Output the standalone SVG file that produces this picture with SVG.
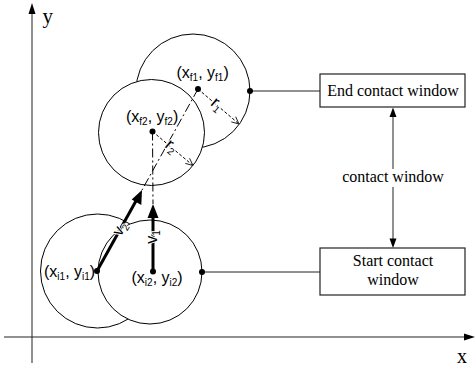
<svg xmlns="http://www.w3.org/2000/svg" width="475" height="366" viewBox="0 0 475 366">
<style>
.circ{fill:#fff;stroke:#000;stroke-width:1}
.dot{fill:#000}
.lbl{font-family:"Liberation Sans",Arial,sans-serif;font-size:16px;fill:#000}
.sub{font-size:10px}
.serif{font-family:"Liberation Serif","Times New Roman",serif;font-size:16px;fill:#000}
.box{fill:#fff;stroke:#222;stroke-width:1.2}
.conn{stroke:#222;stroke-width:1;fill:none}
.dashdot{stroke:#000;stroke-width:1;stroke-dasharray:9,3,2,3;fill:none}
.dash{stroke:#000;stroke-width:1;stroke-dasharray:3,2;fill:none}
.thick{stroke:#000;stroke-width:3;fill:none}
.halo{stroke:#fff;stroke-width:2;paint-order:stroke}
.big{font-size:17px}
</style>
<g id="axes">
<line class="conn" x1="32" y1="363" x2="32" y2="12"/>
<polygon points="32,3 28.5,14 35.5,14" fill="#000"/>
<line class="conn" x1="4" y1="337" x2="466" y2="337"/>
<polygon points="475,337 464,333.5 464,340.5" fill="#000"/>
<text x="42.5" y="23" class="serif" style="font-size:21px">y</text>
<text x="457" y="362.5" class="serif" style="font-size:20px">x</text>
</g>
<g id="circle-f1"><circle class="circ" cx="193" cy="91" r="57"/></g>
<g id="circle-f2"><circle class="circ" cx="151.5" cy="132.5" r="53"/></g>
<g id="circle-i1"><circle class="circ" cx="97.5" cy="271" r="57"/></g>
<g id="circle-i2"><circle class="circ" cx="150" cy="272" r="52"/></g>
<g id="connectors">
<line class="dashdot" x1="198" y1="89" x2="142" y2="190"/>
<line class="dashdot" x1="152.5" y1="131.5" x2="153" y2="204"/>
<line class="dash" x1="198" y1="89" x2="239" y2="124"/>
<polyline class="conn" points="235.7,116.7 239,124 231.3,121.9"/>
<line class="dash" x1="152.5" y1="131.5" x2="193" y2="165.5"/>
<polyline class="conn" points="189.6,158.3 193,165.5 185.3,163.4"/>
<line class="thick" x1="97" y1="271" x2="136.5" y2="200"/>
<polygon points="142,190 131.7,199.6 141.3,204.9" fill="#000"/>
<line class="thick" x1="153" y1="271.5" x2="153" y2="215"/>
<polygon points="153,204 147.5,218 158.5,218" fill="#000"/>
<line class="conn" x1="250" y1="91" x2="320" y2="91"/>
<line class="conn" x1="202" y1="272" x2="320" y2="272"/>
<line class="conn" x1="393" y1="116" x2="393" y2="240"/>
<polygon points="393,107.5 389.5,117 396.5,117" fill="#000"/>
<polygon points="393,248 389.5,238.5 396.5,238.5" fill="#000"/>
<rect x="340" y="169" width="106" height="18" fill="#fff"/>
<text x="393" y="182" class="serif" text-anchor="middle">contact window</text>
<text class="lbl halo" text-anchor="middle" transform="translate(157,237) rotate(-90)">v<tspan class="sub" dy="3">1</tspan></text>
<text class="lbl halo" text-anchor="middle" transform="translate(124,231) rotate(-60.5)">v<tspan class="sub" dy="3">2</tspan></text>
<text class="lbl halo big" text-anchor="middle" transform="translate(214,108) rotate(40)">r<tspan class="sub" dy="3">1</tspan></text>
<text class="lbl halo big" text-anchor="middle" transform="translate(168.4,150) rotate(40)">r<tspan class="sub" dy="3">2</tspan></text>
</g>
<g id="point-f1">
<circle class="dot" cx="198" cy="89" r="3"/>
<circle class="dot" cx="250" cy="91" r="3"/>
<text x="176.5" y="78" class="lbl">(x<tspan class="sub" dy="3">f1</tspan><tspan dy="-3">, y</tspan><tspan class="sub" dy="3">f1</tspan><tspan dy="-3">)</tspan></text>
</g>
<g id="point-f2">
<circle class="dot" cx="152.5" cy="131.5" r="3"/>
<text x="126" y="121.5" class="lbl">(x<tspan class="sub" dy="3">f2</tspan><tspan dy="-3">, y</tspan><tspan class="sub" dy="3">f2</tspan><tspan dy="-3">)</tspan></text>
</g>
<g id="point-i1">
<circle class="dot" cx="97" cy="271" r="3"/>
<text x="44" y="277" class="lbl">(x<tspan class="sub" dy="3">i1</tspan><tspan dy="-3">, y</tspan><tspan class="sub" dy="3">i1</tspan><tspan dy="-3">)</tspan></text>
</g>
<g id="point-i2">
<circle class="dot" cx="153" cy="271.5" r="3"/>
<circle class="dot" cx="202" cy="272" r="3"/>
<text x="131.5" y="283" class="lbl">(x<tspan class="sub" dy="3">i2</tspan><tspan dy="-3">, y</tspan><tspan class="sub" dy="3">i2</tspan><tspan dy="-3">)</tspan></text>
</g>
<g id="end-window">
<rect class="box" x="320" y="74" width="145" height="33"/>
<text x="393" y="96" class="serif" text-anchor="middle">End contact window</text>
</g>
<g id="start-window">
<rect class="box" x="320" y="248" width="145" height="47"/>
<text x="393" y="266" class="serif" text-anchor="middle">Start contact</text>
<text x="393" y="285" class="serif" text-anchor="middle">window</text>
</g>
</svg>
